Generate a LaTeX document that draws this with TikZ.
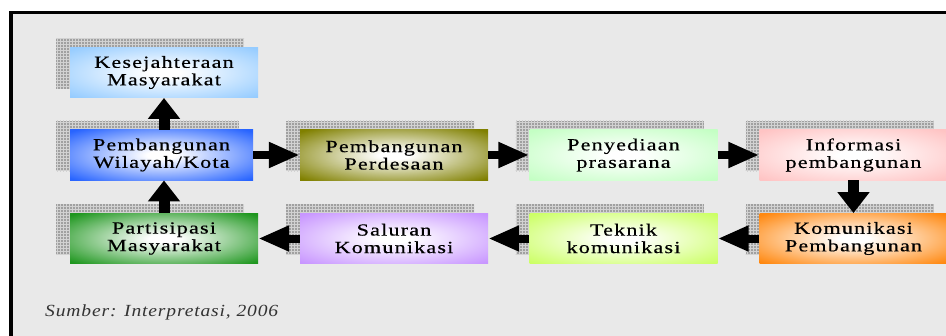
\documentclass[tikz,border=0pt]{standalone}
\usepackage{fontspec}
\setmainfont{Liberation Serif}
\newfontfamily\boxfont{Liberation Serif}[LetterSpace=7, FakeStretch=1.3, FakeBold=0.4]
\newfontfamily\notefont{Liberation Serif}[LetterSpace=5, FakeStretch=1.15]
\usetikzlibrary{arrows.meta,shadows,patterns}

\definecolor{panel}{RGB}{233,233,233}
\definecolor{hatch}{RGB}{160,160,160}
\definecolor{hatchline}{RGB}{210,210,210}
\definecolor{cKes}{RGB}{150,204,255}
\definecolor{cWil}{RGB}{40,100,255}
\definecolor{cPar}{RGB}{30,150,30}
\definecolor{cDes}{RGB}{128,128,0}
\definecolor{cSal}{RGB}{200,150,255}
\definecolor{cPra}{RGB}{196,255,196}
\definecolor{cTek}{RGB}{204,255,102}
\definecolor{cInf}{RGB}{255,196,196}
\definecolor{cKom}{RGB}{255,136,16}
\colorlet{boxouter}{cKes}

% white centre fading to the box colour at the rim
\pgfdeclareradialshading[boxouter]{glow}{\pgfpointorigin}{%
  color(0bp)=(white); color(4bp)=(white); color(34bp)=(boxouter); color(50bp)=(boxouter)}

\tikzset{
  flowbox/.style={
    glowcolor=#1, shading=glow, inner sep=0pt,
    minimum width=188pt, minimum height=50.5pt,
    align=center, text=black,
    font=\boxfont\fontsize{17pt}{17.5pt}\selectfont,
    general shadow={fill=hatch, shadow xshift=-14pt, shadow yshift=9pt},
    general shadow={pattern=grid, pattern color=hatchline, shadow xshift=-14pt, shadow yshift=9pt}},
  glowcolor/.code={\colorlet{boxouter}{#1}},
  harrow/.style={line width=8pt, -{Triangle[length=31pt,width=24pt]}},
  varrow/.style={line width=11pt, -{Triangle[length=21pt,width=31pt]}}
}

\begin{document}
\begin{tikzpicture}[x=1pt,y=-1pt]
\useasboundingbox (0,0) rectangle (946,335);
\clip (0,0) rectangle (946,335);
\fill[white] (0,0) rectangle (946,335);
% framed panel
\fill[panel] (11,12.5) rectangle (990,380);
\draw[line width=3.8pt] (11,12.5) rectangle (990,380);

% boxes
\node[flowbox=cKes] (kes) at (164,72.5)   {Kesejahteraan\\Masyarakat};
\node[flowbox=cWil, minimum width=183pt] (wil) at (161.5,155) {Pembangunan\\Wilayah/Kota};
\node[flowbox=cPar] (par) at (164,238.5)  {Partisipasi\\Masyarakat};
\node[flowbox=cDes] (des) at (394,155)    {Pembangunan\\Perdesaan};
\node[flowbox=cSal] (sal) at (394,238.5)  {Saluran\\Komunikasi};
\node[flowbox=cPra] (pra) at (623.5,155)  {Penyediaan\\prasarana};
\node[flowbox=cTek] (tek) at (623.5,238.5){Teknik\\komunikasi};
\node[flowbox=cInf] (inf) at (853.5,155)  {Informasi\\pembangunan};
\node[flowbox=cKom] (kom) at (853.5,238.5){Komunikasi\\Pembangunan};

% flow arrows
\draw[varrow] (kes.south |- wil.north) -- (kes.south);
\draw[varrow] (par.north) -- (par.north |- wil.south);
\draw[harrow] (wil.east) -- (des.west);
\draw[harrow] (des.east) -- (pra.west);
\draw[harrow] (pra.east) -- (inf.west);
\draw[varrow] (inf.south) -- (kom.north);
\draw[harrow] (kom.west) -- (tek.east);
\draw[harrow] (tek.west) -- (sal.east);
\draw[harrow] (sal.west) -- (par.east);

% source note
\node[anchor=base west, inner sep=0pt, text=black!80,
      font=\notefont\itshape\fontsize{17pt}{18pt}\selectfont] (src) at (45,316)
  {Sumber: Interpretasi, 2006};
\end{tikzpicture}
\end{document}
